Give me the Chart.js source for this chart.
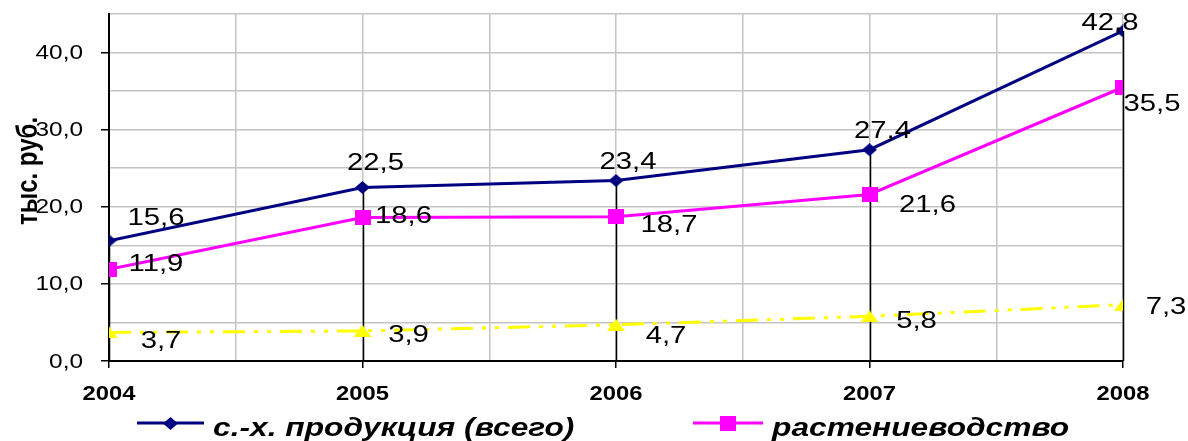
<!DOCTYPE html>
<html>
<head>
<meta charset="utf-8">
<script src="https://cdn.jsdelivr.net/npm/chart.js@4.4.1/dist/chart.umd.min.js"></script>
<style>
  html, body { margin: 0; padding: 0; background: #fff; }
  #wrap { width: 1188px; height: 441px; position: relative; }
</style>
</head>
<body>
<div id="wrap"><canvas id="chart"></canvas></div>
<script>
// data
const years = [2004, 2005, 2006, 2007, 2008];
const totalValues = [15.6, 22.5, 23.4, 27.4, 42.8];
const cropValues = [11.9, 18.6, 18.7, 21.6, 35.5];
const livestockValues = [3.7, 3.9, 4.7, 5.8, 7.3];
const seriesNames = ['с.-х. продукция (всего)', 'растениеводство', 'животноводство'];
const yTitle = 'тыс. руб.';

// where each value label sits relative to its point (text centre)
const labelOffsets = [
    [[47, -23], [13, -25], [12, -19], [13, -19], [-13, -9]],
    [[47, -6], [41, -2], [53, 8], [58, 10], [29, 16]],
    [[52, 8], [46, 3], [50, 11], [47, 4], [43, 2]]
];

const FONT = '"Liberation Sans", Arial, sans-serif';
const SX = 1.22; // the original text is drawn wide

function fmt(v) {
    return v.toFixed(1).replace('.', ',');
}

function toPoints(values) {
    return years.map((y, i) => ({ x: y, y: values[i] }));
}

// small canvases used as point markers (slightly wider than tall, like the original)
function marker(kind, w, h, color) {
    const c = document.createElement('canvas');
    c.width = w; c.height = h;
    const g = c.getContext('2d');
    g.fillStyle = color;
    g.beginPath();
    if (kind === 'diamond') {
        g.moveTo(w / 2, 0); g.lineTo(w, h / 2); g.lineTo(w / 2, h); g.lineTo(0, h / 2);
    } else if (kind === 'triangle') {
        g.moveTo(w / 2, 0); g.lineTo(w, h); g.lineTo(0, h);
    } else {
        g.rect(0, 0, w, h);
    }
    g.closePath();
    g.fill();
    return c;
}

const diamondImg = marker('diamond', 15, 13, '#000080');
const squareImg = marker('square', 16, 15, '#ff00ff');
const triangleImg = marker('triangle', 18, 12, '#ffff00');

function wideText(ctx, text, x, y, align) {
    ctx.save();
    ctx.translate(x, y);
    ctx.scale(SX, 1);
    ctx.textAlign = align;
    ctx.fillText(text, 0, 0);
    ctx.restore();
}

// black drop lines from the top point down to the axis
const dropLines = {
    id: 'dropLines',
    beforeDatasetsDraw(chart) {
        const ctx = chart.ctx;
        const xs = chart.scales.x, ys = chart.scales.y;
        ctx.save();
        ctx.strokeStyle = '#000';
        ctx.lineWidth = 1.5;
        years.forEach((yr, i) => {
            const top = Math.max(totalValues[i], cropValues[i], livestockValues[i]);
            const x = Math.round(xs.getPixelForValue(yr)) + 0.5;
            ctx.beginPath();
            ctx.moveTo(x, ys.getPixelForValue(top));
            ctx.lineTo(x, ys.getPixelForValue(0));
            ctx.stroke();
        });
        ctx.restore();
    }
};

// tick labels, value labels, axis title and legend
const extras = {
    id: 'extras',
    afterDraw(chart) {
        const ctx = chart.ctx;
        const xs = chart.scales.x, ys = chart.scales.y;
        ctx.save();
        ctx.fillStyle = '#000';
        ctx.textBaseline = 'middle';

        // axis tick labels, taken from the scales' own ticks
        ctx.font = '20px ' + FONT;
        ys.ticks.forEach(t => {
            if (t.label) wideText(ctx, t.label, xs.left - 26, ys.getPixelForValue(t.value) + 1, 'right');
        });
        ctx.font = 'bold 19.5px ' + FONT;
        xs.ticks.forEach(t => {
            if (t.label) wideText(ctx, t.label, xs.getPixelForValue(t.value), ys.bottom + 34, 'center');
        });

        // value labels
        ctx.font = '24px ' + FONT;
        chart.data.datasets.forEach((ds, di) => {
            const meta = chart.getDatasetMeta(di);
            meta.data.forEach((pt, i) => {
                const off = labelOffsets[di][i];
                wideText(ctx, fmt(ds.data[i].y), pt.x + off[0], pt.y + off[1] + 1, 'center');
            });
        });

        // y axis title
        ctx.save();
        ctx.translate(29, 171);
        ctx.rotate(-Math.PI / 2);
        ctx.scale(1, SX);
        ctx.font = 'bold 24px ' + FONT;
        ctx.textAlign = 'center';
        ctx.fillText(yTitle, 0, 0);
        ctx.restore();

        // legend (third series is cut off in the original)
        const items = [
            { x: 137, w: 67, tx: 213, ds: chart.data.datasets[0] },
            { x: 693, w: 70, tx: 772, ds: chart.data.datasets[1] }
        ];
        const ly = 423;
        ctx.font = 'italic bold 26px ' + FONT;
        ctx.textBaseline = 'alphabetic';
        items.forEach(it => {
            ctx.strokeStyle = it.ds.borderColor;
            ctx.lineWidth = 3;
            ctx.beginPath();
            ctx.moveTo(it.x, ly);
            ctx.lineTo(it.x + it.w, ly);
            ctx.stroke();
            const img = it.ds.pointStyle;
            ctx.drawImage(img, Math.round(it.x + it.w / 2 - img.width / 2), Math.round(ly - img.height / 2));
            ctx.fillStyle = '#000';
            wideText(ctx, it.ds.label, it.tx, 436, 'left');
        });
        ctx.restore();
    }
};

new Chart(document.getElementById('chart').getContext('2d'), {
    type: 'line',
    data: {
        datasets: [{
            label: seriesNames[0],
            data: toPoints(totalValues),
            borderColor: '#000080',
            backgroundColor: '#000080',
            borderWidth: 3,
            pointStyle: diamondImg,
            tension: 0
        }, {
            label: seriesNames[1],
            data: toPoints(cropValues),
            borderColor: '#ff00ff',
            backgroundColor: '#ff00ff',
            borderWidth: 3,
            pointStyle: squareImg,
            tension: 0
        }, {
            label: seriesNames[2],
            data: toPoints(livestockValues),
            borderColor: '#ffff00',
            backgroundColor: '#ffff00',
            borderWidth: 3,
            borderDash: [22, 9, 4, 9, 4, 9],
            pointStyle: triangleImg,
            tension: 0
        }]
    },
    options: {
        responsive: true,
        maintainAspectRatio: false,
        animation: false,
        layout: { padding: { left: 0, right: 65, top: 14, bottom: 0 } },
        plugins: {
            legend: { display: false },
            tooltip: { enabled: false }
        },
        scales: {
            x: {
                type: 'linear',
                min: 2004,
                max: 2008,
                afterFit(scale) { scale.height = 80; },
                ticks: {
                    display: false,
                    stepSize: 0.5,
                    autoSkip: false,
                    callback: v => Number.isInteger(v) ? String(v) : ''
                },
                grid: {
                    color: '#c4c4c4',
                    lineWidth: 1.5,
                    tickLength: 7,
                    tickColor: ctx => Number.isInteger(ctx.tick.value) ? '#000' : 'rgba(0,0,0,0)'
                },
                border: { color: '#000', width: 2 }
            },
            y: {
                min: 0,
                max: 45,
                afterFit(scale) { scale.width = 109; },
                ticks: {
                    display: false,
                    stepSize: 5,
                    callback: v => v % 10 === 0 ? fmt(v) : ''
                },
                grid: {
                    color: '#c4c4c4',
                    lineWidth: 1.5,
                    tickLength: 8,
                    tickColor: ctx => ctx.tick.value % 10 === 0 ? '#000' : 'rgba(0,0,0,0)'
                },
                border: { color: '#000', width: 2 }
            }
        }
    },
    plugins: [dropLines, extras]
});
</script>
</body>
</html>
